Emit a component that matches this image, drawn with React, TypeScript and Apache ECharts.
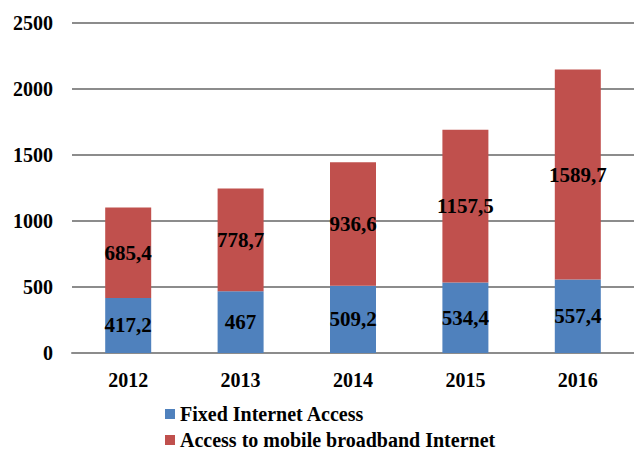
import React, { useEffect, useRef } from "react";
import * as echarts from "echarts";

const years = ["2012", "2013", "2014", "2015", "2016"];
const fixedAccess = [417.2, 467, 509.2, 534.4, 557.4];
const mobileAccess = [685.4, 778.7, 936.6, 1157.5, 1589.7];
const seriesNames = ["Fixed Internet Access", "Access to mobile broadband Internet"];

const FONT = "Liberation Serif";

export default function App() {
  const ref = useRef<HTMLDivElement>(null);
  useEffect(() => {
    if (!ref.current) return;
    const chart = echarts.init(ref.current, null, { renderer: "svg" });
    const fmt = (p: any) => String(p.value).replace(".", ",");
    const labelStyle = {
      show: true,
      position: "inside",
      formatter: fmt,
      fontFamily: FONT,
      fontWeight: "bold",
      fontSize: 21,
      color: "#000",
    };
    chart.setOption({
      animation: false,
      backgroundColor: "#fff",
      textStyle: { fontFamily: FONT },
      grid: { left: 72, top: 23, width: 572, height: 330, containLabel: false },
      legend: {
        orient: "vertical",
        left: 165,
        top: 404,
        height: 80,
        padding: 0,
        itemGap: 6,
        itemWidth: 10,
        itemHeight: 10,
        icon: "rect",
        textStyle: {
          fontFamily: FONT,
          fontWeight: "bold",
          fontSize: 20,
          color: "#000",
        },
        data: seriesNames,
      },
      xAxis: {
        type: "category",
        data: years,
        axisLine: { show: true, lineStyle: { color: "#8c8c8c", width: 2 } },
        axisTick: { show: false },
        axisLabel: { fontFamily: FONT, fontWeight: "bold", fontSize: 20, color: "#000", margin: 17 },
      },
      yAxis: {
        type: "value",
        min: 0,
        max: 2500,
        interval: 500,
        axisLine: { show: false },
        axisTick: { show: false },
        splitLine: { lineStyle: { color: "#8c8c8c", width: 2 } },
        axisLabel: {
          fontFamily: FONT,
          fontWeight: "bold",
          fontSize: 20,
          color: "#000",
          margin: 19,
          formatter: (v: number) => String(v),
        },
      },
      series: [
        {
          name: seriesNames[0],
          type: "bar",
          stack: "total",
          barWidth: 46,
          data: fixedAccess,
          itemStyle: { color: "#4F81BD" },
          label: labelStyle,
        },
        {
          name: seriesNames[1],
          type: "bar",
          stack: "total",
          barWidth: 46,
          data: mobileAccess,
          itemStyle: { color: "#C0504D" },
          label: labelStyle,
        },
      ],
    });
    return () => chart.dispose();
  }, []);
  return (
    <div
      ref={ref}
      style={{ position: "fixed", left: 0, top: 0, width: 634, height: 450, background: "#fff" }}
    />
  );
}
